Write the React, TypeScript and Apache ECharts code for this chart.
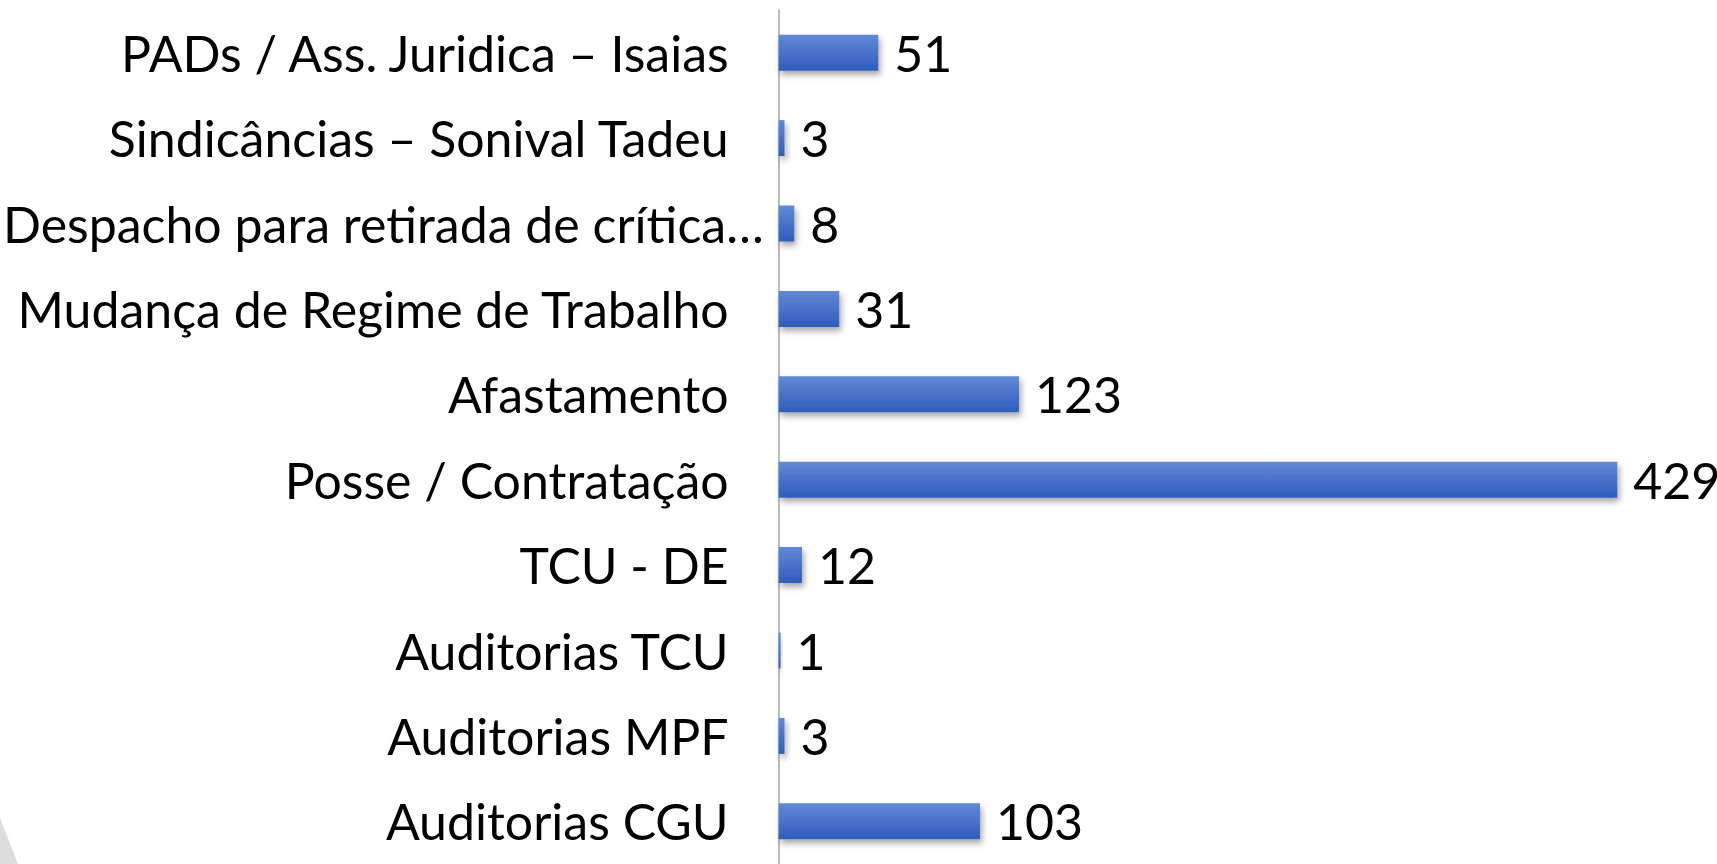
import React, { useEffect, useRef } from "react";
import * as echarts from "echarts";

const categories = [
  "PADs / Ass. Juridica – Isaias",
  "Sindicâncias – Sonival Tadeu",
  "Despacho para retirada de crítica…",
  "Mudança de Regime de Trabalho",
  "Afastamento",
  "Posse / Contratação",
  "TCU - DE",
  "Auditorias TCU",
  "Auditorias MPF",
  "Auditorias CGU",
];
const values = [51, 3, 8, 31, 123, 429, 12, 1, 3, 103];
const LONG_LABEL = "Despacho para retirada de crítica…";

export default function App() {
  const ref = useRef<HTMLDivElement>(null);
  useEffect(() => {
    if (!ref.current) return;
    const chart = echarts.init(ref.current, undefined, { renderer: "svg" });
    const font = "Lato, 'Open Sans', sans-serif";
    const fs = 50;
    chart.setOption({
      animation: false,
      backgroundColor: "#ffffff",
      grid: { left: 777, right: 0, top: 10, bottom: -6, containLabel: false },
      xAxis: {
        type: "value",
        min: 0,
        max: 480,
        show: false,
      },
      yAxis: {
        type: "category",
        inverse: true,
        data: categories,
        axisLine: { show: true, lineStyle: { color: "#a6a6a6", width: 1.5 } },
        axisTick: { show: false },
        splitLine: { show: false },
        axisLabel: {
          margin: 15,
          fontFamily: font,
          fontSize: fs,
          color: "#000000",
          formatter: (v: string) => (v === LONG_LABEL ? `{l|${v}}` : `{n|${v}}`),
          rich: {
            n: { fontFamily: font, fontSize: fs, color: "#000", padding: [0, 35, 0, 0] },
            l: { fontFamily: font, fontSize: fs, color: "#000" },
          },
        },
      },
      series: [
        {
          type: "bar",
          data: values,
          barWidth: 36,
          itemStyle: {
            color: new echarts.graphic.LinearGradient(0, 0, 0, 1, [
              { offset: 0, color: "#6189d5" },
              { offset: 1, color: "#2f5dbd" },
            ]),
            shadowColor: "rgba(0,0,0,0.35)",
            shadowBlur: 6,
            shadowOffsetX: 2,
            shadowOffsetY: 4,
          },
          label: {
            show: true,
            position: "right",
            distance: 16,
            fontFamily: font,
            fontSize: fs,
            color: "#000000",
          },
        },
      ],
      graphic: [
        {
          type: "polygon",
          silent: true,
          shape: { points: [[0, 818], [18, 864], [0, 864]] },
          style: { fill: "#dcdcdc" },
        },
      ],
    });
    return () => chart.dispose();
  }, []);
  return (
    <div
      ref={ref}
      style={{ position: "fixed", left: 0, top: 0, width: 1717, height: 864 }}
    />
  );
}
